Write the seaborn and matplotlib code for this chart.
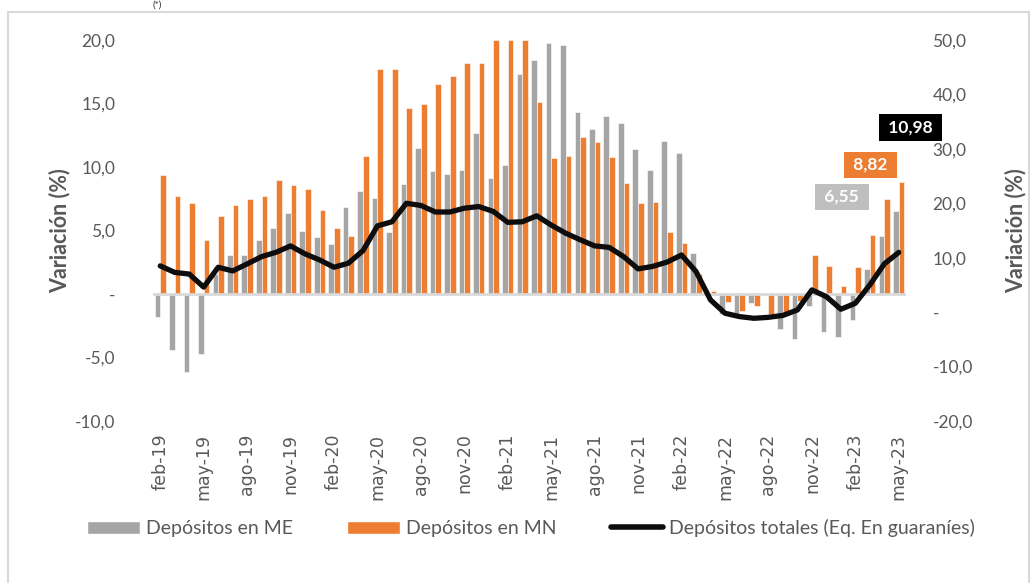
import numpy as np
import pandas as pd
import matplotlib.pyplot as plt
import seaborn as sns
from matplotlib.patches import Patch, Rectangle
from matplotlib.lines import Line2D
from matplotlib.ticker import FuncFormatter

# Monthly categories feb-19 .. may-23
meses = ["feb-19", "mar-19", "abr-19", "may-19", "jun-19", "jul-19", "ago-19", "sep-19", "oct-19", "nov-19", "dic-19",
         "ene-20", "feb-20", "mar-20", "abr-20", "may-20", "jun-20", "jul-20", "ago-20", "sep-20", "oct-20", "nov-20", "dic-20",
         "ene-21", "feb-21", "mar-21", "abr-21", "may-21", "jun-21", "jul-21", "ago-21", "sep-21", "oct-21", "nov-21", "dic-21",
         "ene-22", "feb-22", "mar-22", "abr-22", "may-22", "jun-22", "jul-22", "ago-22", "sep-22", "oct-22", "nov-22", "dic-22",
         "ene-23", "feb-23", "mar-23", "abr-23", "may-23"]

# Depósitos en moneda extranjera (left axis, %)
dep_me = [-1.79, -4.42, -6.13, -4.74, 1.6, 3.1, 3.1, 4.26, 5.16, 6.37, 4.97,
          4.5, 3.97, 6.82, 8.08, 7.58, 4.92, 8.63, 11.5, 9.66, 9.42, 9.79, 12.68,
          9.1, 10.16, 17.3, 18.45, 19.76, 19.58, 14.3, 13.03, 14.0, 13.47, 11.45, 9.76,
          12.05, 11.13, 3.24, 0.1, -1.58, -1.58, -0.68, -0.1, -2.76, -3.55, -0.92, -3.03,
          -3.42, -2.03, 1.97, 4.6, 6.55]

# Depósitos en moneda nacional (left axis, %)
dep_mn = [9.34, 7.68, 7.16, 4.26, 6.18, 6.97, 7.5, 7.71, 8.95, 8.58, 8.24,
          6.58, 5.16, 4.58, 10.9, 17.7, 17.7, 14.63, 14.95, 16.5, 17.16, 18.18, 18.16,
          20.0, 20.0, 20.0, 15.13, 10.68, 10.87, 12.4, 11.95, 10.76, 8.76, 7.13, 7.26,
          4.92, 4.05, 1.58, 0.26, -0.66, -1.37, -0.95, -1.6, -1.45, -0.53, 3.1, 2.21,
          0.66, 2.16, 4.68, 7.5, 8.82]

# Depósitos totales (right axis, %)
dep_total = [8.5, 7.3, 7.0, 4.6, 8.25, 7.57, 8.86, 10.2, 11.0, 12.17, 10.7,
             9.6, 8.25, 9.0, 11.3, 15.85, 16.6, 20.0, 19.6, 18.4, 18.4, 19.1, 19.4,
             18.5, 16.5, 16.6, 17.7, 16.0, 14.5, 13.3, 12.17, 11.9, 10.2, 7.95, 8.4,
             9.2, 10.5, 7.45, 2.25, -0.2, -0.82, -1.13, -0.95, -0.6, 0.4, 4.08, 2.85,
             0.53, 1.63, 5.0, 8.86, 10.98]

series = ["Depósitos en ME", "Depósitos en MN", "Depósitos totales (Eq. En guaraníes)"]
colores = {"Depósitos en ME": "#a5a5a5", "Depósitos en MN": "#ed7d31"}
negro = "#0d0d0d"
gris_txt = "#595959"

sns.set_style("white")
plt.rcParams['font.family'] = ['Lato', 'DejaVu Sans']

n = len(meses)
df = pd.DataFrame({
    "mes": meses * 2,
    "valor": dep_me + dep_mn,
    "serie": [series[0]] * n + [series[1]] * n,
})

fig = plt.figure(figsize=(10.35, 5.83), dpi=100)
ax = fig.add_axes([153 / 1035, 1 - 421 / 583, 753 / 1035, 381 / 583])

sns.barplot(data=df, x="mes", y="valor", hue="serie", order=meses, hue_order=series[:2],
            palette=colores, width=0.78, saturation=1, edgecolor="white", linewidth=0.4,
            legend=False, ax=ax)
ax.set_ylim(-10, 20)
ax.set_xlim(-0.5, n - 0.5)
ax.axhline(0, color="#d9d9d9", lw=2, zorder=4)

ax2 = ax.twinx()
sns.lineplot(x=np.arange(n), y=dep_total, color=negro, lw=3.8, ax=ax2)
ax2.set_ylim(-20, 50)
ax2.lines[0].set_solid_capstyle("round")
ax2.lines[0].set_solid_joinstyle("round")

fmt = FuncFormatter(lambda v, p: "-" if abs(v) < 1e-9 else f"{v:.1f}".replace(".", ","))
ax.set_yticks(np.arange(-10, 21, 5))
ax2.set_yticks(np.arange(-20, 51, 10))
ax.yaxis.set_major_formatter(fmt)
ax2.yaxis.set_major_formatter(fmt)
ax.tick_params(axis="y", length=0, pad=27, labelsize=12.5, labelcolor=gris_txt)
ax2.tick_params(axis="y", length=0, pad=19, labelsize=12.5, labelcolor=gris_txt)

ax.set_xticks(range(0, n, 3))
ax.set_xticklabels(meses[::3], rotation=90, fontfamily="DejaVu Sans", fontsize=12.5, color=gris_txt)
ax.tick_params(axis="x", length=0, pad=9)
ax.set_xlabel("")

for a in (ax, ax2):
    for s in a.spines.values():
        s.set_visible(False)

ax.set_ylabel("Variación (%)", fontsize=15.5, fontweight="bold", color=gris_txt)
ax.yaxis.set_label_coords(-0.110, 0.5)
ax2.set_ylabel("Variación (%)", fontsize=15.5, fontweight="bold", color=gris_txt)
ax2.yaxis.set_label_coords(1.131, 0.5)

# data labels for the last month
def etiqueta(a, x, y, val, dx, dy, fc):
    texto = " " + f"{val:.2f}".replace(".", ",") + " "
    a.annotate(texto, xy=(x, y), xytext=(dx, dy), textcoords="offset pixels",
               ha="center", va="center", color="white", fontweight="bold", fontsize=12.5,
               bbox=dict(boxstyle="square,pad=0.3", fc=fc, ec="none"), zorder=10)

etiqueta(ax, n - 1.2, dep_me[-1], dep_me[-1], -54, 14, "#bfbfbf")
etiqueta(ax, n - 0.8, dep_mn[-1], dep_mn[-1], -31, 17, colores[series[1]])
etiqueta(ax2, n - 1, dep_total[-1], dep_total[-1], 12, 125, "black")

handles = [Patch(fc=colores[series[0]]), Patch(fc=colores[series[1]]),
           Line2D([], [], color=negro, lw=4, solid_capstyle="round")]
fig.legend(handles, series, loc="center", bbox_to_anchor=(531 / 1035, 1 - 528 / 583), ncol=3,
           frameon=False, fontsize=14, handlelength=2.7, handleheight=0.65, columnspacing=2.8,
           handletextpad=0.31, labelcolor=gris_txt)

# outer frame and heading at the top edge
fig.patches.append(Rectangle((8 / 1035, -0.01), 1021 / 1035, 1.01 - 12 / 583, transform=fig.transFigure,
                             fill=False, edgecolor="#d9d9d9", lw=1.5))
fig.text(157 / 1035, 1 - 1 / 583, "(*)", fontsize=7, ha="center", va="top", color="#262626")

plt.savefig("out.png", dpi=100)
